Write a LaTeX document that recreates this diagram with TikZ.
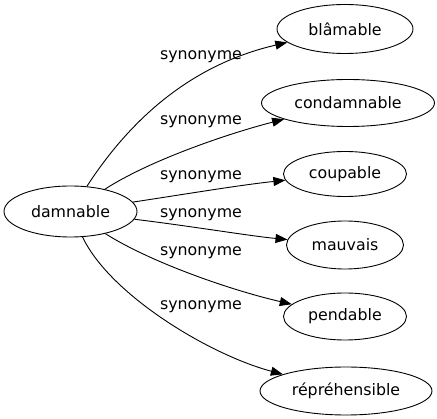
\documentclass[tikz,border=0pt]{standalone}
\usepackage{fontspec}
\setmainfont{DejaVu Sans}
\usetikzlibrary{shapes.geometric,arrows.meta}

\begin{document}
\begin{tikzpicture}[x=1pt, y=-1pt,
    word/.style={draw, ellipse, inner sep=0pt, line width=0.9pt, font=\fontsize{15.8}{19}\selectfont},
    rel/.style={font=\fontsize{15.8}{19}\selectfont, inner sep=0pt},
    syn/.style={line width=0.9pt, -{Triangle[length=12pt, width=9pt]}}]
      \useasboundingbox (0, 0) rectangle (437, 419);
      \node[word, minimum width=133pt, minimum height=51pt] (damnable) at (70.5, 211.5) {damnable};
      \node[word, minimum width=136pt, minimum height=49pt] (blamable) at (345, 29) {blâmable};
      \node[word, minimum width=173pt, minimum height=47pt] (condamnable) at (348, 103) {condamnable};
      \node[word, minimum width=123pt, minimum height=45pt] (coupable) at (345, 174) {coupable};
      \node[word, minimum width=117pt, minimum height=48pt] (mauvais) at (345, 245) {mauvais};
      \node[word, minimum width=123pt, minimum height=47pt] (pendable) at (345, 316.5) {pendable};
      \node[word, minimum width=172pt, minimum height=48pt] (reprehensible) at (346, 391) {répréhensible};
      \node[rel] (s1) at (201, 56.7) {synonyme};
      \node[rel] (s2) at (201, 121.7) {synonyme};
      \node[rel] (s3) at (201, 176.7) {synonyme};
      \node[rel] (s4) at (201, 215) {synonyme};
      \node[rel] (s5) at (201, 253) {synonyme};
      \node[rel] (s6) at (201, 306.7) {synonyme};
      \draw[syn] (damnable) .. controls (130, 120) and (190, 65) .. (blamable);
      \draw[syn] (damnable) .. controls (150, 160) and (230, 133) .. (condamnable);
      \draw[syn] (damnable) .. controls (180, 195) and (240, 185) .. (coupable);
      \draw[syn] (damnable) .. controls (190, 226) and (250, 236) .. (mauvais);
      \draw[syn] (damnable) .. controls (150, 262) and (230, 290) .. (pendable);
      \draw[syn] (damnable) .. controls (110, 295) and (210, 355) .. (reprehensible);
\end{tikzpicture}
\end{document}
